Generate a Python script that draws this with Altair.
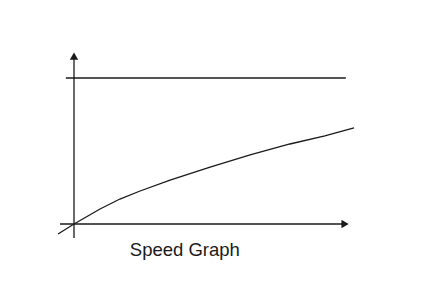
import altair as alt
import pandas as pd

# Curve values (time units vs speed units)
time = [-0.57, 0.0, 0.93, 1.64, 2.36, 3.43, 4.86, 6.29, 7.71, 8.96, 10.0]
speed = [-0.68, 0.0, 1.03, 1.71, 2.26, 3.01, 3.90, 4.73, 5.48, 6.03, 6.58]

limit_speed = 10.0
limit_x = [-0.29, 9.71]
x_axis_span = [-0.5, 9.64]
y_axis_span = [-0.96, 11.37]
arrow_x = 9.68
arrow_y = 11.5
title_text = "Speed Graph"
title_pos = [3.96, -1.78]

X_DOM = [-74 / 28, 361 / 28]
Y_DOM = [-77 / 14.6, 224 / 14.6]

xs = alt.Scale(domain=X_DOM, nice=False, zero=False)
ys = alt.Scale(domain=Y_DOM, nice=False, zero=False)
ink = "#1a1a1a"

curve_df = pd.DataFrame({"t": time, "v": speed})
base = alt.Chart(curve_df)

curve = base.mark_line(color=ink, strokeWidth=1.3).encode(
    x=alt.X("t:Q", scale=xs, axis=None),
    y=alt.Y("v:Q", scale=ys, axis=None),
)

xaxis = alt.Chart(pd.DataFrame({"x": [x_axis_span[0]], "x2": [x_axis_span[1]], "y": [0.0]})).mark_rule(
    color=ink, strokeWidth=1.3
).encode(x=alt.X("x:Q", scale=xs, axis=None), x2="x2:Q", y=alt.Y("y:Q", scale=ys, axis=None))

yaxis = alt.Chart(pd.DataFrame({"x": [0.0], "y": [y_axis_span[0]], "y2": [y_axis_span[1]]})).mark_rule(
    color=ink, strokeWidth=1.3
).encode(x=alt.X("x:Q", scale=xs, axis=None), y=alt.Y("y:Q", scale=ys, axis=None), y2="y2:Q")

limit = alt.Chart(pd.DataFrame({"x": [limit_x[0]], "x2": [limit_x[1]], "y": [limit_speed]})).mark_rule(
    color=ink, strokeWidth=1.3
).encode(x=alt.X("x:Q", scale=xs, axis=None), x2="x2:Q", y=alt.Y("y:Q", scale=ys, axis=None))

arrow_r = alt.Chart(pd.DataFrame({"x": [arrow_x], "y": [0.0]})).mark_point(
    shape="triangle-right", filled=True, color=ink, opacity=1, size=70
).encode(x=alt.X("x:Q", scale=xs, axis=None), y=alt.Y("y:Q", scale=ys, axis=None))

arrow_u = alt.Chart(pd.DataFrame({"x": [0.0], "y": [arrow_y]})).mark_point(
    shape="triangle-up", filled=True, color=ink, opacity=1, size=70
).encode(x=alt.X("x:Q", scale=xs, axis=None), y=alt.Y("y:Q", scale=ys, axis=None))

label = alt.Chart(pd.DataFrame({"x": [title_pos[0]], "y": [title_pos[1]], "t": [title_text]})).mark_text(
    font="Liberation Sans", fontSize=18.5, color=ink, baseline="middle", align="center"
).encode(x=alt.X("x:Q", scale=xs, axis=None), y=alt.Y("y:Q", scale=ys, axis=None), text="t:N")

chart = alt.layer(limit, xaxis, yaxis, curve, arrow_r, arrow_u, label).properties(
    width=435, height=301, autosize=alt.AutoSizeParams(type="none"), padding=0, background="white"
).configure_view(stroke=None)

chart.save("out.html", embed_options={"renderer": "svg", "actions": False})
